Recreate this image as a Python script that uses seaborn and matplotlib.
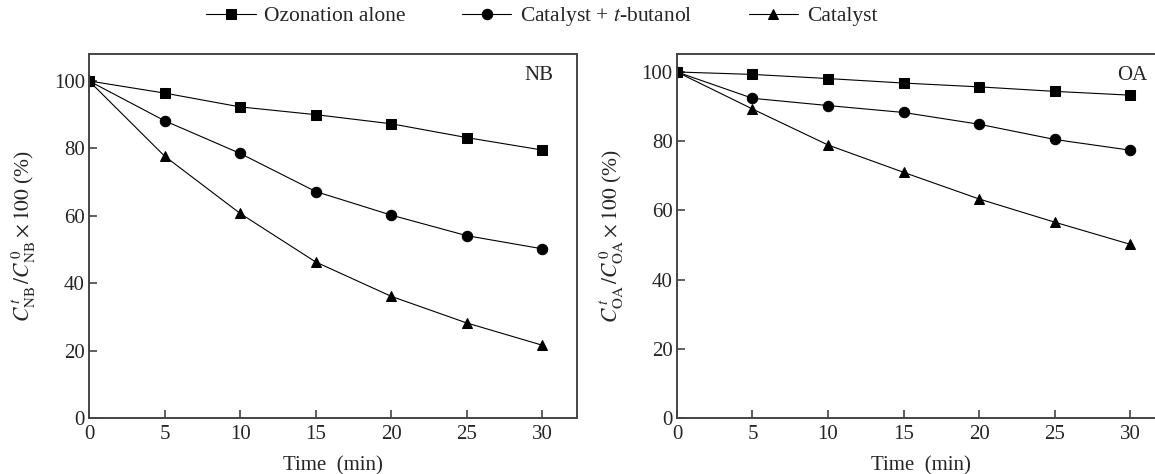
import numpy as np
import pandas as pd
import matplotlib
matplotlib.use('Agg')
import matplotlib.pyplot as plt
import seaborn as sns

# data
time_min = [0, 5, 10, 15, 20, 25, 30]
series_names = ['Ozonation alone', 'Catalyst + $t$-butanol', 'Catalyst']
series_markers = ['s', 'o', '^']

nb_ozonation = [100, 96.4, 92.3, 90.0, 87.3, 83.2, 79.5]
nb_tbutanol = [100, 88.2, 78.5, 67.2, 60.2, 54.1, 50.2]
nb_catalyst = [100, 77.7, 60.7, 46.3, 36.1, 28.2, 21.6]

oa_ozonation = [100, 99.3, 98.1, 96.8, 95.7, 94.4, 93.3]
oa_tbutanol = [100, 92.4, 90.3, 88.3, 84.9, 80.5, 77.4]
oa_catalyst = [100, 89.3, 78.9, 71.0, 63.3, 56.6, 50.2]

sns.set_theme(style='ticks')
plt.rcParams['font.family'] = ['Liberation Serif', 'DejaVu Serif']
plt.rcParams['mathtext.fontset'] = 'stix'
plt.rcParams['axes.edgecolor'] = '#444444'
plt.rcParams['axes.linewidth'] = 1.4

fig = plt.figure(figsize=(11.55, 4.74), dpi=100)
ax1 = fig.add_axes([0.0771, 0.1181, 0.4225, 0.768])
ax2 = fig.add_axes([0.5861, 0.1181, 0.4225, 0.768])

panels = [
    (ax1, [nb_ozonation, nb_tbutanol, nb_catalyst], 'NB', 108, 0.951),
    (ax2, [oa_ozonation, oa_tbutanol, oa_catalyst], 'OA', 105.2, 0.963),
]

for ax, values, tag, ytop, xtag in panels:
    for name, mk, vals in zip(series_names, series_markers, values):
        df = pd.DataFrame({'t': time_min, 'v': vals})
        sns.lineplot(data=df, x='t', y='v', ax=ax, color='black', lw=0.8,
                     marker=mk, markersize=7.5 if mk != 's' else 7,
                     markeredgecolor='black', markerfacecolor='black',
                     label=name, legend=False)
    ax.set_xlim(0, 32.3)
    ax.set_ylim(0, ytop)
    ax.set_xticks([0, 5, 10, 15, 20, 25, 30])
    ax.set_yticks([0, 20, 40, 60, 80, 100])
    ax.tick_params(direction='in', length=6, width=1.2, color='#444444',
                   labelsize=15)
    ax.tick_params(axis='x', pad=5)
    ax.tick_params(axis='y', pad=3)
    ax.set_xlabel('Time  (min)', fontsize=15, labelpad=9)
    sub = r'\mathrm{' + tag + '}'
    ax.set_ylabel(r'$C^{\,t}_{' + sub + r'}\,/C^{\,0}_{' + sub + r'}\times 100$ (%)',
                  fontsize=15.5, labelpad=11)
    ax.text(xtag, 0.94, tag, transform=ax.transAxes, ha='right', va='center',
            fontsize=15)

handles, labels = ax1.get_legend_handles_labels()
fig.legend(handles, labels, loc='center', bbox_to_anchor=(0.469, 0.965), ncol=3,
           frameon=False, fontsize=15.5, handlelength=2.3, columnspacing=2.6,
           handletextpad=0.4)

fig.savefig('out.png', dpi=100)
